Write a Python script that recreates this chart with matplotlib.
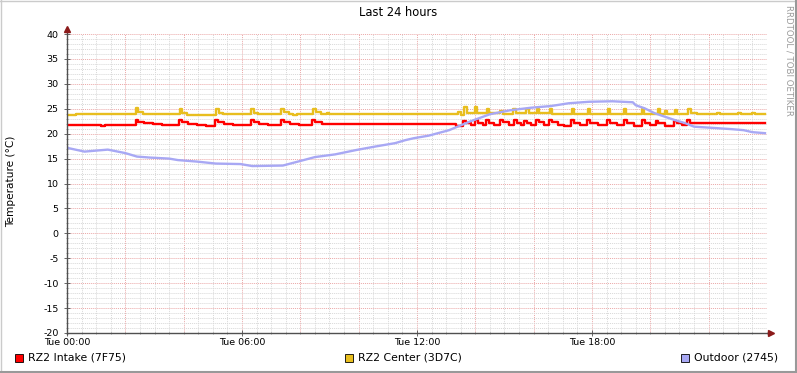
import matplotlib
matplotlib.use('Agg')
import matplotlib.pyplot as plt
from matplotlib.patches import Rectangle
from matplotlib.lines import Line2D
import numpy as np

plt.rcParams['axes.unicode_minus'] = False

# hours since Tue 00:00 / degrees C
intake_t = [0.00, 1.15, 1.30, 2.35, 2.45, 2.65, 2.95, 3.25, 3.85, 3.95, 4.15, 4.45, 4.75,
            5.08, 5.18, 5.40, 5.70, 6.30, 6.40, 6.60, 6.90, 7.33, 7.43, 7.65, 7.95,
            8.41, 8.51, 8.75, 9.05, 11.10, 11.25, 12.50, 13.35, 13.58, 13.68, 13.85,
            13.98, 14.08, 14.25, 14.38, 14.48, 14.65, 14.85, 14.95, 15.15, 15.33, 15.43,
            15.58, 15.68, 15.78, 15.92, 16.07, 16.17, 16.35, 16.53, 16.63, 16.85, 17.05,
            17.29, 17.39, 17.60, 17.84, 17.94, 18.20, 18.53, 18.63, 18.85, 19.10, 19.20,
            19.45, 19.72, 19.82, 20.00, 20.18, 20.28, 20.50, 20.81, 20.91, 21.10, 21.27,
            21.37, 21.60, 23.93]
intake_v = [21.7, 21.5, 21.7, 22.8, 22.4, 22.1, 21.9, 21.7, 22.7, 22.3, 22.0, 21.8, 21.6,
            22.7, 22.3, 22.0, 21.7, 22.7, 22.3, 22.0, 21.7, 22.7, 22.3, 22.0, 21.8,
            22.8, 22.3, 22.0, 21.9, 22.0, 21.9, 22.0, 21.5, 22.6, 22.2, 21.8,
            22.7, 22.2, 21.8, 22.7, 22.2, 21.7, 22.7, 22.3, 21.7, 22.7, 22.2,
            21.8, 22.6, 22.1, 21.7, 22.8, 22.3, 21.8, 22.8, 22.3, 21.8, 21.6,
            22.7, 22.2, 21.8, 22.7, 22.2, 21.7, 22.7, 22.2, 21.8, 22.7, 22.2,
            21.6, 22.7, 22.2, 21.7, 22.6, 22.1, 21.6, 22.6, 22.2, 21.8, 22.8,
            22.2, 22.1, 22.1]

center_t = [0.00, 0.30, 0.90, 1.00, 1.60, 1.70, 2.37, 2.45, 2.60, 3.87, 3.95, 4.10,
            5.10, 5.20, 5.35, 6.32, 6.42, 6.55, 7.35, 7.45, 7.60, 7.75, 7.90,
            8.43, 8.53, 8.70, 8.90, 9.00, 12.40, 12.50, 13.40, 13.50, 13.60, 13.70,
            13.99, 14.07, 14.40, 14.48, 14.86, 14.94, 15.30, 15.38, 15.75, 15.83,
            16.10, 16.18, 16.56, 16.64, 17.30, 17.38, 17.86, 17.94, 18.55, 18.63,
            19.10, 19.18, 19.70, 19.78, 20.25, 20.33, 20.50, 20.58, 20.84, 20.92,
            21.30, 21.38, 21.60, 22.30, 22.40, 23.00, 23.10, 23.50, 23.60, 23.93]
center_v = [23.8, 23.9, 24.0, 23.9, 24.0, 23.9, 25.1, 24.3, 23.9, 24.9, 24.2, 23.8,
            25.0, 24.2, 23.9, 25.0, 24.2, 23.9, 25.0, 24.3, 23.9, 23.7, 23.9,
            24.9, 24.3, 23.9, 24.1, 23.9, 24.0, 23.9, 24.4, 23.7, 25.3, 24.1,
            25.3, 24.2, 25.0, 24.1, 24.6, 24.0, 24.9, 24.1, 24.9, 24.1,
            24.9, 24.1, 24.9, 24.0, 25.0, 24.0, 24.9, 24.0, 25.0, 24.0,
            24.9, 23.9, 24.9, 23.9, 24.9, 23.9, 24.5, 23.9, 24.7, 23.9,
            25.0, 24.1, 23.9, 24.1, 23.9, 24.1, 23.9, 24.1, 24.0, 24.0]

outdoor_t = [0.00, 0.05, 0.60, 1.40, 2.00, 2.40, 2.85, 3.50, 3.80, 4.45, 5.10, 5.95,
             6.35, 7.40, 8.05, 8.50, 9.20, 9.90, 10.55, 11.25, 11.60, 11.90, 12.40,
             13.10, 13.80, 14.50, 15.20, 15.90, 16.60, 17.20, 17.90, 18.70, 19.40,
             19.50, 19.80, 20.15, 20.50, 20.85, 21.20, 21.50, 22.30, 22.80, 23.20,
             23.50, 23.93]
outdoor_v = [17.3, 17.1, 16.4, 16.8, 16.1, 15.4, 15.2, 15.0, 14.7, 14.4, 14.0, 13.9,
             13.5, 13.6, 14.6, 15.3, 15.85, 16.7, 17.4, 18.1, 18.7, 19.1, 19.6,
             20.7, 22.4, 23.9, 24.7, 25.2, 25.55, 26.1, 26.4, 26.5, 26.3,
             25.7, 25.1, 24.1, 23.4, 22.7, 22.1, 21.4, 21.1, 20.9, 20.7,
             20.3, 20.1]

x_ticks = [0, 6, 12, 18]
x_labels = ['Tue 00:00', 'Tue 06:00', 'Tue 12:00', 'Tue 18:00']
legend_labels = ['RZ2 Intake (7F75)', 'RZ2 Center (3D7C)', 'Outdoor (2745)']
colors = ['#FF0000', '#E8BE1E', '#A8A8F4']

W, H = 797, 373
fig = plt.figure(figsize=(W / 100, H / 100), dpi=100)
fig.patch.set_facecolor('white')
ax = fig.add_axes([67 / W, 40 / H, 700 / W, 299 / H])
ax.set_xlim(0, 24)
ax.set_ylim(-20, 40)
for s in ax.spines.values():
    s.set_visible(False)

# grid: minor gray, major red-ish, dotted
dot = (0, (1, 1))
for v in np.arange(0.5, 24.01, 0.5):
    c = '#EBA8A8' if v % 2 == 0 else '#D8D8D8'
    ax.axvline(v, color=c, lw=0.7, ls=dot, zorder=1)
for h in range(-19, 41):
    c = '#EBA8A8' if h % 5 == 0 else '#D8D8D8'
    ax.axhline(h, color=c, lw=0.7, ls=dot, zorder=1)

ax.plot(intake_t, intake_v, drawstyle='steps-post', color=colors[0], lw=1.7, zorder=3)
ax.plot(center_t, center_v, drawstyle='steps-post', color=colors[1], lw=1.7, zorder=3)
ax.plot(outdoor_t, outdoor_v, color=colors[2], lw=1.7, zorder=4)

# axes with arrows
ax.plot([0, 24.15], [-20, -20], color='#505050', lw=1, clip_on=False, zorder=5)
ax.plot([0, 0], [-20.3, 41.1], color='#505050', lw=1, clip_on=False, zorder=5)
ax.plot([24.15], [-20], marker='>', color='#8B1A1A', ms=4, clip_on=False, zorder=6)
ax.plot([0], [41.1], marker='^', color='#8B1A1A', ms=4, clip_on=False, zorder=6)

ax.set_xticks(x_ticks)
ax.set_xticklabels(x_labels)
ax.set_xticks(np.arange(0, 24.01, 0.5), minor=True)
ax.set_yticks(range(-20, 41, 5))
ax.set_yticks(range(-20, 41), minor=True)
ax.tick_params(which='major', direction='inout', length=4, width=0.6, color='#505050',
               labelsize=6.8, labelcolor='black')
ax.tick_params(which='minor', direction='inout', length=2, width=0.5, color='#808080')
ax.tick_params(axis='y', pad=4)
ax.tick_params(axis='x', pad=1.5)

fig.text(398 / W, 1 - 13 / H, 'Last 24 hours', ha='center', va='center', fontsize=8.3)
fig.text(11 / W, 1 - 181 / H, 'Temperature (°C)', ha='center', va='center',
         rotation=90, fontsize=7.6)
fig.text(789 / W, 1 - 5 / H, 'RRDTOOL / TOBI OETIKER', ha='center', va='top',
         rotation=270, fontsize=6.2, color='#9A9A9A')

# legend
for x0, lab, c in zip([15, 345, 681], legend_labels, colors):
    fig.patches.append(Rectangle((x0 / W, (H - 362) / H), 8 / W, 8 / H,
                                 transform=fig.transFigure, facecolor=c,
                                 edgecolor='black', lw=0.6))
    fig.text((x0 + 13) / W, 1 - 358 / H, lab, ha='left', va='center', fontsize=7.8)

# frame shading
fig.lines.append(Line2D([0, 1], [1 - 0.5 / H, 1 - 0.5 / H], transform=fig.transFigure,
                        color='#CBCBCB', lw=1))
fig.lines.append(Line2D([0.5 / W, 0.5 / W], [0, 1], transform=fig.transFigure,
                        color='#CBCBCB', lw=1))
fig.lines.append(Line2D([1 - 1 / W, 1 - 1 / W], [0, 1], transform=fig.transFigure,
                        color='#999999', lw=1.5))
fig.lines.append(Line2D([0, 1], [1 / H, 1 / H], transform=fig.transFigure,
                        color='#999999', lw=1.5))

fig.savefig('out.png', dpi=100)
